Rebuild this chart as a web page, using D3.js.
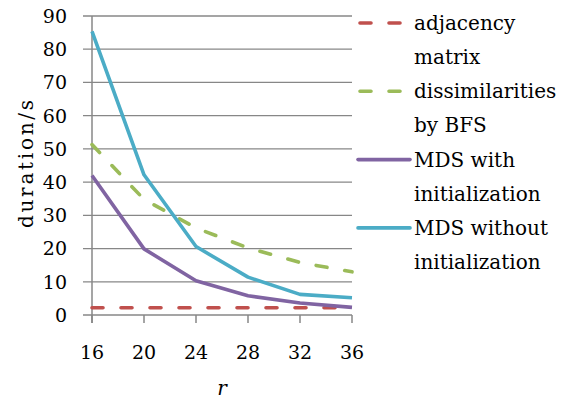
<!DOCTYPE html>
<html>
<head>
<meta charset="utf-8">
<script src="https://cdn.jsdelivr.net/npm/d3@7"></script>
<style>
  body { margin: 0; background: #fff; }
  svg text { font-family: "DejaVu Serif", serif; }
</style>
</head>
<body>
<div id="chart"></div>
<script>
const rValues = [16, 20, 24, 28, 32, 36];
const yTicks = [0, 10, 20, 30, 40, 50, 60, 70, 80, 90];
const adjacency = [2.2, 2.2, 2.2, 2.2, 2.2, 2.2];
const dissimilarities = [51.3, 34.8, 26.2, 20.2, 15.8, 13.0];
const mdsWith = [42.0, 19.9, 10.3, 5.8, 3.6, 2.3];
const mdsWithout = [85.4, 42.2, 20.6, 11.4, 6.2, 5.2];

const seriesNames = [["adjacency", "matrix"], ["dissimilarities", "by BFS"], ["MDS with", "initialization"], ["MDS without", "initialization"]];
const seriesColors = ["#c0504d", "#9bbb59", "#8064a2", "#4bacc6"];
const seriesDashed = [true, true, false, false];
const seriesValues = [adjacency, dissimilarities, mdsWith, mdsWithout];

const width = 567, height = 401;
const margin = { top: 16, right: 215, bottom: 86, left: 92 };

const svg = d3.select("#chart").append("svg").attr("width", width).attr("height", height);

const x = d3.scalePoint().domain(rValues).range([margin.left, width - margin.right]);
const y = d3.scaleLinear().domain([0, 90]).range([height - margin.bottom, margin.top]);

// gridlines
svg.append("g").selectAll("line").data(yTicks).enter().append("line")
  .attr("x1", margin.left - 9).attr("x2", width - margin.right)
  .attr("y1", d => y(d)).attr("y2", d => y(d))
  .attr("stroke", "#878787").attr("stroke-width", 1.3);

// y axis line
svg.append("line")
  .attr("x1", margin.left).attr("x2", margin.left)
  .attr("y1", y(90)).attr("y2", y(0) + 8)
  .attr("stroke", "#878787").attr("stroke-width", 1.5);

// x ticks
svg.append("g").selectAll("line").data(rValues).enter().append("line")
  .attr("x1", d => x(d)).attr("x2", d => x(d))
  .attr("y1", y(0)).attr("y2", y(0) + 8)
  .attr("stroke", "#878787").attr("stroke-width", 1.5);

// y tick labels
svg.append("g").selectAll("text").data(yTicks).enter().append("text")
  .attr("x", 67).attr("y", d => y(d))
  .attr("dy", "0.36em")
  .attr("text-anchor", "end")
  .style("font-size", "19px")
  .text(d => d);

// x tick labels
svg.append("g").selectAll("text").data(rValues).enter().append("text")
  .attr("x", d => x(d)).attr("y", 359)
  .attr("text-anchor", "middle")
  .style("font-size", "19px")
  .text(d => d);

// axis titles
svg.append("text")
  .attr("x", (x(24) + x(28)) / 2).attr("y", 395)
  .attr("text-anchor", "middle")
  .style("font-size", "20px")
  .style("font-style", "italic")
  .text("r");

svg.append("text")
  .attr("transform", "rotate(-90)")
  .attr("x", -164).attr("y", 33)
  .attr("text-anchor", "middle")
  .attr("textLength", 128)
  .attr("lengthAdjust", "spacing")
  .style("font-size", "20px")
  .text("duration/s");

// series lines
const line = d3.line().x((d, i) => x(rValues[i])).y(d => y(d));

seriesValues.forEach((vals, k) => {
  svg.append("path")
    .datum(vals)
    .attr("d", line)
    .attr("fill", "none")
    .attr("stroke", seriesColors[k])
    .attr("stroke-width", 3.6)
    .attr("stroke-linecap", seriesDashed[k] ? "round" : "butt")
    .attr("stroke-linejoin", "round")
    .attr("stroke-dasharray", seriesDashed[k] ? "11,18" : null);
});

// legend
const legend = svg.append("g");
seriesNames.forEach((name, k) => {
  const ly = 23 + k * 68.3;
  legend.append("line")
    .attr("x1", seriesDashed[k] ? 360 : 358).attr("x2", seriesDashed[k] ? 400 : 410)
    .attr("y1", ly).attr("y2", ly)
    .attr("stroke", seriesColors[k])
    .attr("stroke-width", 3.6)
    .attr("stroke-linecap", "round")
    .attr("stroke-dasharray", seriesDashed[k] ? "11,18" : null);
  name.forEach((t, j) => {
    legend.append("text")
      .attr("x", 414).attr("y", ly + 7 + j * 34)
      .style("font-size", "20px")
      .text(t);
  });
});
</script>
</body>
</html>
